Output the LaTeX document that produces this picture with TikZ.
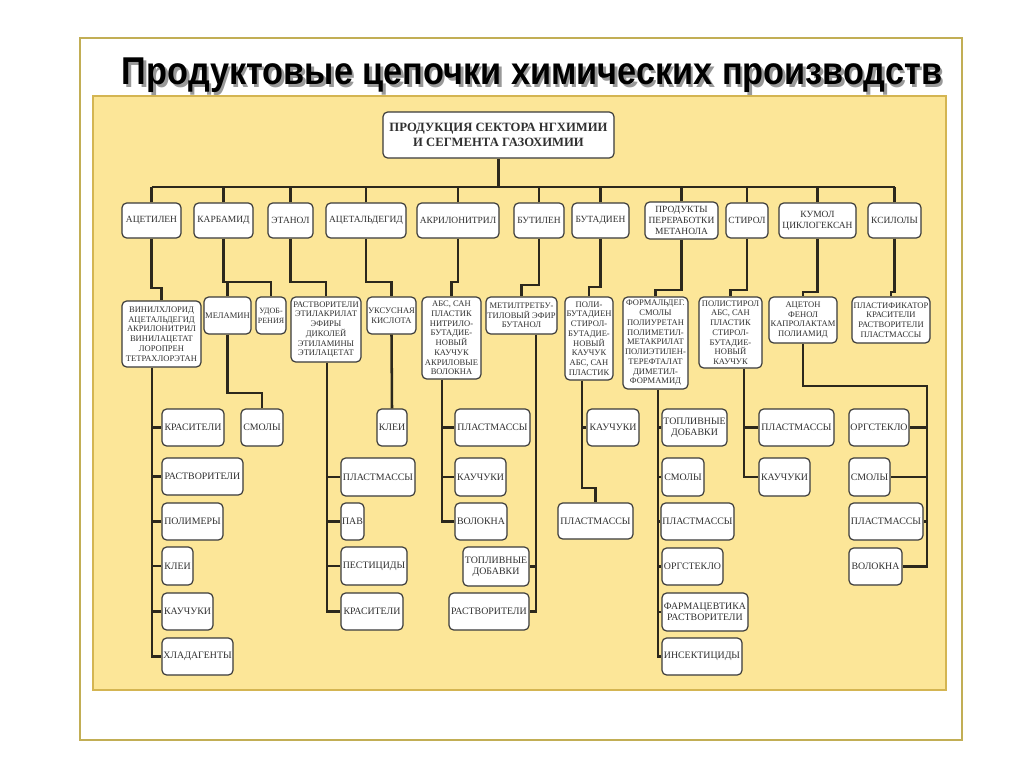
\documentclass[tikz,border=0pt]{standalone}
\usepackage{graphicx}
\usepackage{fontspec}
\setmainfont{Liberation Serif}
\newfontfamily\titlefont{Liberation Sans}
\definecolor{framec}{HTML}{C2AE55}
\definecolor{panelc}{HTML}{FCE698}
\definecolor{panelb}{HTML}{D4B552}
\definecolor{boxc}{HTML}{3A3A3A}
\definecolor{txtc}{HTML}{303030}
\definecolor{connc}{HTML}{2C281C}
\newcommand\bx[7]{\node[#1, minimum width={(#5-#3)*0.75pt}, minimum height={(#6-#4)*0.75pt}] (#2) at ({(#3+#5)/2},{(#4+#6)/2}) {#7};}
\newcommand\ttltext{\titlefont\bfseries Продуктовые цепочки химических производств}
\tikzset{
  box/.style={draw=boxc, fill=white, rounded corners=3.5pt, line width=0.9pt, inner sep=0.5pt, align=center, text=txtc},
  b0/.style={box, font=\fontsize{9.5}{11.8}\selectfont\bfseries},
  b1/.style={box, font=\fontsize{7.1}{8.4}\selectfont},
  b2/.style={box, font=\fontsize{6.4}{7.3}\selectfont},
  b2s/.style={box, font=\fontsize{6}{7.3}\selectfont},
  b3/.style={box, font=\fontsize{7.4}{8.4}\selectfont},
  conn/.style={draw=connc, line width=1.9pt, line join=miter},
}
\begin{document}
\begin{tikzpicture}[x=0.75pt,y=-0.75pt]
\useasboundingbox (0,0) rectangle (1024,767);
\fill[white] (0,0) rectangle (1024,767);
\draw[framec, line width=1.6pt] (80,38) rectangle (962,740);
\draw[panelb, fill=panelc, line width=1.6pt] (93,96) rectangle (946,690);
% title
\node[anchor=base, inner sep=0, text=black!40] (ttlshadow) at (534.5,87.5) {\resizebox{615pt}{20pt}{\ttltext}};
\node[anchor=base, inner sep=0, text=black] (ttl) at (532,85) {\resizebox{615pt}{20pt}{\ttltext}};
% root
\bx{b0}{root}{383}{112}{614}{158}{ПРОДУКЦИЯ СЕКТОРА НГХИМИИ\\И СЕГМЕНТА ГАЗОХИМИИ}
% level 1
\bx{b1}{acet}{122}{203}{181}{238}{АЦЕТИЛЕН}
\bx{b1}{karb}{194}{203}{253}{238}{КАРБАМИД}
\bx{b1}{etan}{268}{203}{313}{238}{ЭТАНОЛ}
\bx{b1}{acal}{326}{203}{406}{238}{АЦЕТАЛЬДЕГИД}
\bx{b1}{akr}{417}{203}{499}{238}{АКРИЛОНИТРИЛ}
\bx{b1}{butl}{514}{203}{564}{238}{БУТИЛЕН}
\bx{b1}{butd}{572}{203}{629}{238}{БУТАДИЕН}
\bx{b1}{meth}{645}{202}{718}{239}{ПРОДУКТЫ\\ПЕРЕРАБОТКИ\\МЕТАНОЛА}
\bx{b1}{stir}{726}{203}{768}{238}{СТИРОЛ}
\bx{b1}{kum}{779}{203}{856}{238}{КУМОЛ\\ЦИКЛОГЕКСАН}
\bx{b1}{ksil}{868}{203}{921}{238}{КСИЛОЛЫ}
% level 2
\bx{b2}{vin}{122}{301}{201}{367}{ВИНИЛХЛОРИД\\АЦЕТАЛЬДЕГИД\\АКРИЛОНИТРИЛ\\ВИНИЛАЦЕТАТ\\ЛОРОПРЕН\\ТЕТРАХЛОРЭТАН}
\bx{b2}{mel}{204}{297}{251}{334}{МЕЛАМИН}
\bx{b2s}{udob}{256}{297}{286}{334}{УДОБ-\\РЕНИЯ}
\bx{b2}{rast}{291}{297}{361}{362}{РАСТВОРИТЕЛИ\\ЭТИЛАКРИЛАТ\\ЭФИРЫ\\ДИКОЛЕЙ\\ЭТИЛАМИНЫ\\ЭТИЛАЦЕТАТ}
\bx{b2}{uks}{367}{297}{416}{334}{УКСУСНАЯ\\КИСЛОТА}
\bx{b2}{abs}{422}{297}{481}{379}{АБС, САН\\ПЛАСТИК\\НИТРИЛО-\\БУТАДИЕ-\\НОВЫЙ\\КАУЧУК\\АКРИЛОВЫЕ\\ВОЛОКНА}
\bx{b2}{mtb}{486}{297}{557}{334}{МЕТИЛТРЕТБУ-\\ТИЛОВЫЙ ЭФИР\\БУТАНОЛ}
\bx{b2}{poli}{565}{297}{613}{380}{ПОЛИ-\\БУТАДИЕН\\СТИРОЛ-\\БУТАДИЕ-\\НОВЫЙ\\КАУЧУК\\АБС, САН\\ПЛАСТИК}
\bx{b2}{form}{623}{297}{688}{389}{ФОРМАЛЬДЕГ.\\СМОЛЫ\\ПОЛИУРЕТАН\\ПОЛИМЕТИЛ-\\МЕТАКРИЛАТ\\ПОЛИЭТИЛЕН-\\ТЕРЕФТАЛАТ\\ДИМЕТИЛ-\\ФОРМАМИД}
\bx{b2}{pst}{699}{297}{762}{368}{ПОЛИСТИРОЛ\\АБС, САН\\ПЛАСТИК\\СТИРОЛ-\\БУТАДИЕ-\\НОВЫЙ\\КАУЧУК}
\bx{b2}{aceton}{769}{297}{837}{343}{АЦЕТОН\\ФЕНОЛ\\КАПРОЛАКТАМ\\ПОЛИАМИД}
\bx{b2}{plast}{852}{297}{930}{343}{ПЛАСТИФИКАТОР\\КРАСИТЕЛИ\\РАСТВОРИТЕЛИ\\ПЛАСТМАССЫ}
% level 3
\bx{b3}{a1}{162}{409}{224}{446}{КРАСИТЕЛИ}
\bx{b3}{a2}{162}{458}{243}{495}{РАСТВОРИТЕЛИ}
\bx{b3}{a3}{162}{503}{223}{540}{ПОЛИМЕРЫ}
\bx{b3}{a4}{162}{547}{193}{585}{КЛЕИ}
\bx{b3}{a5}{162}{593}{213}{630}{КАУЧУКИ}
\bx{b3}{a6}{162}{638}{233}{675}{ХЛАДАГЕНТЫ}
\bx{b3}{k1}{241}{409}{283}{446}{СМОЛЫ}
\bx{b3}{e1}{341}{458}{415}{496}{ПЛАСТМАССЫ}
\bx{b3}{e2}{341}{503}{364}{540}{ПАВ}
\bx{b3}{e3}{341}{547}{407}{585}{ПЕСТИЦИДЫ}
\bx{b3}{e4}{341}{593}{403}{630}{КРАСИТЕЛИ}
\bx{b3}{u1}{377}{409}{407}{446}{КЛЕИ}
\bx{b3}{r1}{455}{409}{530}{446}{ПЛАСТМАССЫ}
\bx{b3}{r2}{455}{458}{506}{496}{КАУЧУКИ}
\bx{b3}{r3}{455}{503}{507}{540}{ВОЛОКНА}
\bx{b3}{m1}{463}{547}{529}{586}{ТОПЛИВНЫЕ\\ДОБАВКИ}
\bx{b3}{m2}{449}{593}{529}{630}{РАСТВОРИТЕЛИ}
\bx{b3}{p1}{587}{409}{639}{446}{КАУЧУКИ}
\bx{b3}{p2}{558}{503}{633}{539}{ПЛАСТМАССЫ}
\bx{b3}{f1}{662}{409}{727}{446}{ТОПЛИВНЫЕ\\ДОБАВКИ}
\bx{b3}{f2}{662}{458}{704}{496}{СМОЛЫ}
\bx{b3}{f3}{661}{503}{734}{540}{ПЛАСТМАССЫ}
\bx{b3}{f4}{662}{548}{723}{585}{ОРГСТЕКЛО}
\bx{b3}{f5}{662}{593}{748}{631}{ФАРМАЦЕВТИКА\\РАСТВОРИТЕЛИ}
\bx{b3}{f6}{662}{638}{742}{675}{ИНСЕКТИЦИДЫ}
\bx{b3}{s1}{759}{409}{834}{446}{ПЛАСТМАССЫ}
\bx{b3}{s2}{759}{458}{810}{496}{КАУЧУКИ}
\bx{b3}{c1}{849}{409}{909}{446}{ОРГСТЕКЛО}
\bx{b3}{c2}{849}{458}{890}{496}{СМОЛЫ}
\bx{b3}{c3}{849}{503}{923}{540}{ПЛАСТМАССЫ}
\bx{b3}{c4}{849}{548}{902}{585}{ВОЛОКНА}
% connectors: root to level 1
\coordinate (bus) at (0,187);
\draw[conn] (root.south) -- (root.south |- bus);
\draw[conn] (acet.north |- bus) -- (ksil.north |- bus);
\foreach \n in {acet,karb,etan,acal,akr,butl,butd,meth,stir,kum,ksil}
  \draw[conn] (\n.north) -- (\n.north |- bus);
% level 1 to level 2
\coordinate (j1) at (0,288);
\coordinate (j2) at (0,282);
\coordinate (j3) at (0,285);
\coordinate (j4) at (0,287);
\coordinate (j5) at (0,290);
\coordinate (j6) at (0,292);
\draw[conn] (acet.south) -- (acet.south |- j1) -| (vin.north);
\draw[conn] (karb.south) -- (karb.south |- j2) -| (mel.north);
\draw[conn] (karb.south |- j2) -| (udob.north);
\draw[conn] (etan.south) -- (etan.south |- j2) -| (rast.north);
\draw[conn] (acal.south) -- (acal.south |- j2) -| (uks.north);
\draw[conn] (akr.south) -- (akr.south |- j2) -| (abs.north);
\draw[conn] (butl.south) -- (butl.south |- j3) -| (mtb.north);
\draw[conn] (butd.south) -- (butd.south |- j4) -| (poli.north);
\draw[conn] (meth.south) -- (meth.south |- j5) -| (form.north);
\draw[conn] (stir.south) -- (stir.south |- j5) -| (pst.north);
\draw[conn] (kum.south) -- (kum.south |- j6) -| (aceton.north);
\draw[conn] (ksil.south) -- (ksil.south |- j6) -| (plast.north);
% level 2 to level 3
\coordinate (tA) at (152,0);
\draw[conn] (tA |- vin.south) |- (a6.west);
\foreach \n in {a1,a2,a3,a4,a5} \draw[conn] (tA |- \n.west) -- (\n.west);
\coordinate (jm) at (0,393);
\draw[conn] (mel.south) -- (mel.south |- jm) -| (k1.north);
\coordinate (tE) at (327,0);
\draw[conn] (tE |- rast.south) |- (e4.west);
\foreach \n in {e1,e2,e3} \draw[conn] (tE |- \n.west) -- (\n.west);
\draw[conn] (uks.south) -- (u1.north);
\coordinate (tR) at (442,0);
\draw[conn] (tR |- abs.south) |- (r3.west);
\foreach \n in {r1,r2} \draw[conn] (tR |- \n.west) -- (\n.west);
\coordinate (tM) at (536,0);
\draw[conn] (tM |- mtb.south) |- (m2.east);
\draw[conn] (tM |- m1.east) -- (m1.east);
\coordinate (tP) at (582,0);
\coordinate (jp) at (0,488);
\draw[conn] (tP |- poli.south) -- (tP |- jp) -| (p2.north);
\draw[conn] (tP |- p1.west) -- (p1.west);
\coordinate (tF) at (658,0);
\draw[conn] (tF |- form.south) |- (f6.west);
\foreach \n in {f1,f2,f3,f4,f5} \draw[conn] (tF |- \n.west) -- (\n.west);
\coordinate (tS) at (744,0);
\draw[conn] (tS |- pst.south) |- (s2.west);
\draw[conn] (tS |- s1.west) -- (s1.west);
\coordinate (jc) at (0,386);
\coordinate (tC) at (927,0);
\draw[conn] (aceton.south) -- (aceton.south |- jc) -| (tC |- c4.east) -- (c4.east);
\foreach \n in {c1,c2,c3} \draw[conn] (tC |- \n.east) -- (\n.east);
\end{tikzpicture}
\end{document}
